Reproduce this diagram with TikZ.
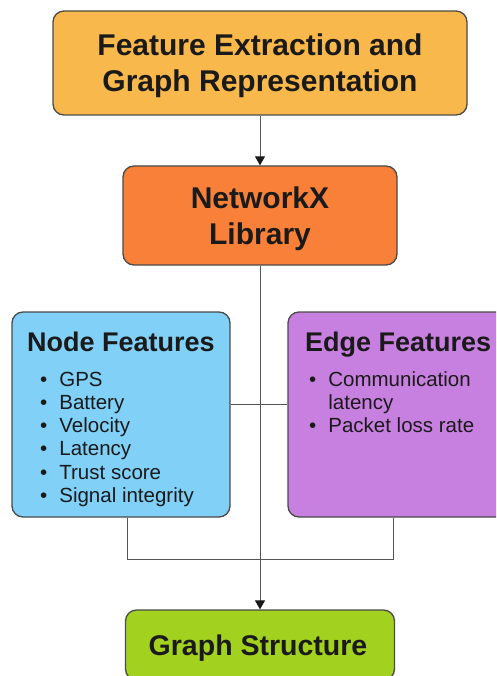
\documentclass[tikz,border=0pt]{standalone}
\usepackage{fontspec}
\setmainfont{Liberation Sans}
\usetikzlibrary{arrows.meta}
\definecolor{cTop}{HTML}{F9B84B}
\definecolor{cNet}{HTML}{F98038}
\definecolor{cNode}{HTML}{80D0F8}
\definecolor{cEdge}{HTML}{C880E0}
\definecolor{cGraph}{HTML}{A3D11F}
\definecolor{cBorder}{HTML}{4A4A4A}
\definecolor{cLine}{HTML}{555555}
\definecolor{cText}{HTML}{1A1A1A}
\tikzset{
  box/.style={draw=cBorder, line width=1.3pt, rounded corners=11pt, inner sep=0pt},
  boxtext/.style={inner sep=0pt, text=cText, font=\bfseries\fontsize{30}{36}\selectfont, align=center},
  conn/.style={draw=cLine, line width=1pt},
  arr/.style={conn, -{Triangle[length=9pt,width=10pt,fill=cText,color=cText]}},
  boxtitle/.style={inner sep=0pt, text=cText, font=\bfseries\fontsize{27}{32}\selectfont},
  itemlist/.style={inner sep=0pt, text=cText, font=\fontsize{20.5}{23.3}\selectfont}
}
\begin{document}
\begin{tikzpicture}[x=1pt,y=-1pt]
\clip (0,0) rectangle (496,676);
\fill[white] (0,0) rectangle (496,676);

\node[box, fill=cTop, minimum width=414, minimum height=104] (top) at (260,63) {};
\node[boxtext] (topt) at (260,65.5) {Feature Extraction and\\Graph Representation};
\node[box, fill=cNet, minimum width=274, minimum height=99] (netx) at (260,215.5) {};
\node[boxtext] (netxt) at (260,218.5) {NetworkX\\Library};
\node[box, fill=cNode, minimum width=218, minimum height=205] (nf) at (121,414.5) {};
\node[box, fill=cEdge, minimum width=224, minimum height=205] (ef) at (400,414.5) {};
\node[box, fill=cGraph, minimum width=269, minimum height=70] (gs) at (260,645) {};
\node[boxtext, font=\bfseries\fontsize{28.5}{34}\selectfont] (gst) at (258,648) {Graph Structure};

\node[boxtitle, anchor=base west] (nft) at (27,351) {Node Features};
\node[itemlist, anchor=base west] (nfl) at (40,386)
  {\begin{tabular}[t]{@{}l@{\hspace{12pt}}l@{}}
   •&GPS\\ •&Battery\\ •&Velocity\\ •&Latency\\ •&Trust score\\ •&Signal integrity
   \end{tabular}};

\node[boxtitle, anchor=base west] (eft) at (305,351) {Edge Features};
\node[itemlist, anchor=base west] (efl) at (309,386)
  {\begin{tabular}[t]{@{}l@{\hspace{12pt}}l@{}}
   •&Communication\\ &latency\\ •&Packet loss rate
   \end{tabular}};

\draw[arr] (top.south) -- (netx.north);
\draw[arr] (netx.south) -- (netx.south |- gs.north);
\draw[conn] (nf.east |- 0,404) -- (ef.west |- 0,404);
\coordinate (bl) at (127,559);
\coordinate (br) at (393,559);
\draw[conn] (nf.south -| bl) -- (bl) -- (br) -- (ef.south -| br);
\end{tikzpicture}
\end{document}
